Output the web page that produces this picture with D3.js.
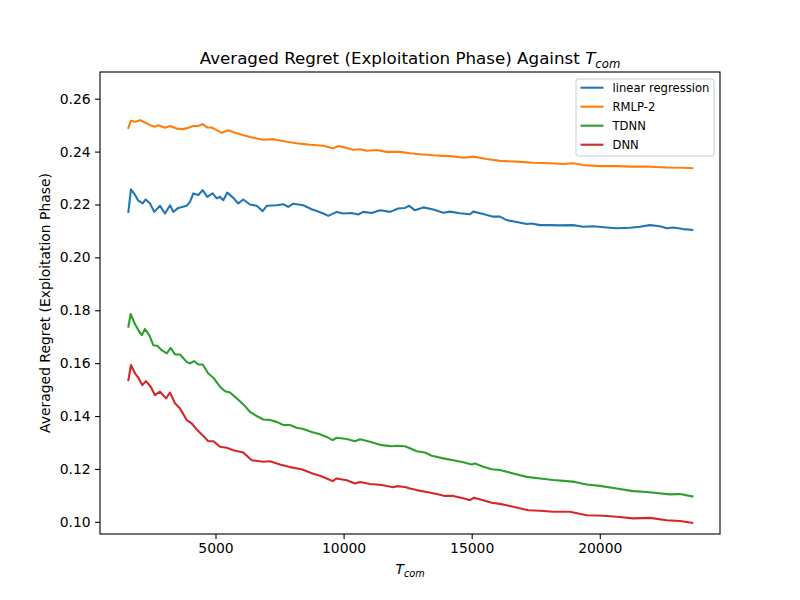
<!DOCTYPE html>
<html>
<head>
<meta charset="utf-8">
<script src="https://cdn.jsdelivr.net/npm/d3@7"></script>
<style>
    body { margin: 0; background: #fff; }
    svg { font-family: "DejaVu Sans", sans-serif; }
</style>
</head>
<body>
<svg id="regretChart" width="800" height="600"></svg>
<script>
// T_com positions and averaged regret values, one pair of arrays per model
var linRegT = [1600, 1700, 1860, 1975, 2160, 2275, 2445, 2610, 2835, 3030, 3225, 3355, 3550, 3875, 4005, 4135, 4330, 4500, 4680, 4890,
    5045, 5175, 5305, 5460, 5695, 5890, 6085, 6345, 6610, 6840, 7000, 7390, 7645, 7840, 8035, 8425, 8755, 8950, 9207, 9403,
    9730, 9988, 10316, 10573, 10769, 11096, 11420, 11811, 12135, 12396, 12564, 12786, 13110, 13500, 13891, 14153, 14543, 14933, 15062, 15452,
    15843, 16104, 16366, 16756, 17146, 17341, 17665, 18056, 18446, 18965, 19355, 19745, 20268, 20659, 21178, 21568, 21959, 22349, 22610, 22868,
    23258, 23610];
var linRegVal = [0.2172, 0.2257, 0.2236, 0.2216, 0.2204, 0.2219, 0.2204, 0.2172, 0.2195, 0.2166, 0.2197, 0.2172, 0.2187, 0.2195, 0.2210, 0.2242, 0.2236, 0.2254, 0.2229, 0.2242,
    0.2223, 0.2229, 0.2216, 0.2245, 0.2225, 0.2204, 0.2219, 0.2200, 0.2195, 0.2175, 0.2195, 0.2197, 0.2201, 0.2191, 0.2203, 0.2197, 0.2182, 0.2175, 0.2166, 0.2157,
    0.2172, 0.2166, 0.2168, 0.2162, 0.2172, 0.2168, 0.2178, 0.2172, 0.2185, 0.2187, 0.2195, 0.2178, 0.2189, 0.2181, 0.2169, 0.2173, 0.2167, 0.2163, 0.2173, 0.2164,
    0.2154, 0.2154, 0.2141, 0.2134, 0.2126, 0.2128, 0.2122, 0.2122, 0.2121, 0.2122, 0.2116, 0.2118, 0.2113, 0.2110, 0.2112, 0.2116, 0.2122, 0.2118, 0.2110, 0.2113,
    0.2107, 0.2104];

var rmlpT = [1600, 1700, 1860, 2053, 2248, 2444, 2639, 2768, 3029, 3224, 3486, 3743, 3938, 4133, 4329, 4500, 4680, 4852, 5047, 5242,
    5500, 5761, 6085, 6475, 6866, 7256, 7779, 8298, 8688, 9207, 9598, 9793, 10121, 10378, 10640, 10901, 11292, 11682, 12201, 12591,
    12982, 13500, 13891, 14281, 14672, 15062, 15585, 16104, 16756, 17404, 18056, 18575, 18965, 19355, 20007, 20659, 21307, 21959, 22610, 23258,
    23610];
var rmlpVal = [0.2490, 0.2517, 0.2513, 0.2519, 0.2510, 0.2500, 0.2494, 0.2500, 0.2490, 0.2497, 0.2487, 0.2485, 0.2490, 0.2497, 0.2497, 0.2504, 0.2491, 0.2491, 0.2481, 0.2471,
    0.2481, 0.2471, 0.2462, 0.2452, 0.2445, 0.2447, 0.2437, 0.2430, 0.2426, 0.2422, 0.2412, 0.2421, 0.2414, 0.2407, 0.2409, 0.2403, 0.2406, 0.2399, 0.2399, 0.2394,
    0.2390, 0.2386, 0.2384, 0.2382, 0.2377, 0.2381, 0.2372, 0.2365, 0.2362, 0.2358, 0.2356, 0.2353, 0.2356, 0.2349, 0.2345, 0.2345, 0.2343, 0.2343, 0.2340, 0.2339,
    0.2337];

var tdnnT = [1600, 1690, 1860, 1987, 2120, 2248, 2416, 2572, 2728, 2900, 3095, 3251, 3419, 3614, 3876, 4005, 4161, 4329, 4500, 4719,
    4914, 5176, 5371, 5566, 5827, 6085, 6347, 6608, 6866, 7127, 7388, 7646, 7908, 8169, 8427, 8755, 9079, 9340, 9574, 9730,
    10121, 10445, 10640, 11030, 11487, 11877, 12072, 12396, 12591, 12853, 13177, 13438, 13891, 14281, 14672, 14999, 15128, 15452, 15780, 16104,
    16623, 17146, 17665, 18184, 18707, 19031, 19488, 20007, 20659, 21307, 21830, 22220, 22739, 23130, 23610];
var tdnnVal = [0.1738, 0.1786, 0.1747, 0.1725, 0.1706, 0.1729, 0.1706, 0.1668, 0.1666, 0.1649, 0.1637, 0.1658, 0.1633, 0.1633, 0.1605, 0.1599, 0.1608, 0.1595, 0.1595, 0.1561,
    0.1545, 0.1511, 0.1494, 0.1489, 0.1467, 0.1444, 0.1416, 0.1400, 0.1387, 0.1385, 0.1378, 0.1366, 0.1366, 0.1356, 0.1351, 0.1340, 0.1331, 0.1321, 0.1309, 0.1318,
    0.1313, 0.1305, 0.1312, 0.1303, 0.1290, 0.1286, 0.1288, 0.1286, 0.1278, 0.1267, 0.1262, 0.1250, 0.1240, 0.1233, 0.1225, 0.1217, 0.1221, 0.1208, 0.1199, 0.1196,
    0.1183, 0.1170, 0.1164, 0.1158, 0.1154, 0.1151, 0.1141, 0.1136, 0.1126, 0.1116, 0.1113, 0.1109, 0.1104, 0.1105, 0.1096];

var dnnT = [1600, 1700, 1860, 1987, 2143, 2287, 2471, 2639, 2834, 3068, 3224, 3419, 3614, 3876, 4071, 4290, 4524, 4719, 4914, 5176,
    5437, 5695, 6085, 6413, 6866, 7127, 7517, 7908, 8364, 8817, 9079, 9340, 9574, 9730, 10121, 10445, 10640, 11030, 11487, 11939,
    12072, 12396, 12591, 12853, 13243, 13633, 13957, 14281, 14672, 14933, 15089, 15452, 15780, 16104, 16623, 17208, 17665, 18184, 18835, 19488,
    20136, 20659, 21307, 21959, 22610, 23130, 23610];
var dnnVal = [0.1536, 0.1593, 0.1561, 0.1545, 0.1517, 0.1532, 0.1511, 0.1479, 0.1492, 0.1467, 0.1489, 0.1448, 0.1429, 0.1385, 0.1372, 0.1347, 0.1325, 0.1305, 0.1305, 0.1284,
    0.1280, 0.1271, 0.1262, 0.1233, 0.1227, 0.1229, 0.1217, 0.1207, 0.1199, 0.1182, 0.1174, 0.1164, 0.1154, 0.1164, 0.1157, 0.1145, 0.1151, 0.1143, 0.1139, 0.1131,
    0.1135, 0.1132, 0.1126, 0.1120, 0.1113, 0.1105, 0.1098, 0.1098, 0.1089, 0.1082, 0.1091, 0.1082, 0.1072, 0.1068, 0.1057, 0.1044, 0.1042, 0.1038, 0.1038, 0.1025,
    0.1023, 0.1019, 0.1013, 0.1015, 0.1006, 0.1003, 0.0996];

var seriesNames = ["linear regression", "RMLP-2", "TDNN", "DNN"];
var xTickValues = [5000, 10000, 15000, 20000];
var yTickValues = [0.10, 0.12, 0.14, 0.16, 0.18, 0.20, 0.22, 0.24, 0.26];

(function () {
    var svg = d3.select("#regretChart"),
        margin = { top: 72, right: 80, bottom: 66, left: 100 },
        width = +svg.attr("width") - margin.left - margin.right,
        height = +svg.attr("height") - margin.top - margin.bottom,
        g = svg.append("g").attr("transform", "translate(" + margin.left + "," + margin.top + ")");

    var colors = ["#1f77b4", "#ff7f0e", "#2ca02c", "#d62728"];

    var data = [
        { name: seriesNames[0], t: linRegT, v: linRegVal },
        { name: seriesNames[1], t: rmlpT, v: rmlpVal },
        { name: seriesNames[2], t: tdnnT, v: tdnnVal },
        { name: seriesNames[3], t: dnnT, v: dnnVal }
    ];

    var x = d3.scaleLinear().domain([492, 24692]).range([0, width]);
    var y = d3.scaleLinear().domain([0.0954, 0.2701]).range([height, 0]);

    var line = d3.line()
        .x(function (d) { return x(d[0]); })
        .y(function (d) { return y(d[1]); });

    g.selectAll(".series")
        .data(data)
        .enter().append("path")
        .attr("class", "series")
        .attr("fill", "none")
        .attr("stroke", function (d, i) { return colors[i]; })
        .attr("stroke-width", 2.1)
        .attr("stroke-linejoin", "round")
        .attr("stroke-linecap", "square")
        .attr("d", function (d) {
            return line(d.t.map(function (t, i) { return [t, d.v[i]]; }));
        });

    // axes, matplotlib look
    var xAxis = g.append("g")
        .attr("transform", "translate(0," + height + ")")
        .call(d3.axisBottom(x).tickValues(xTickValues).tickSize(4.9).tickPadding(4.5).tickFormat(d3.format("d")));
    var yAxis = g.append("g")
        .call(d3.axisLeft(y).tickValues(yTickValues).tickSize(4.9).tickPadding(4.5).tickFormat(d3.format(".2f")));

    [xAxis, yAxis].forEach(function (a) {
        a.select(".domain").remove();
        a.selectAll(".tick line").attr("stroke", "#000").attr("stroke-width", 1.1);
        a.selectAll(".tick text")
            .attr("fill", "#000")
            .style("font-family", "'DejaVu Sans', sans-serif")
            .style("font-size", "13.9px");
    });

    g.append("rect")
        .attr("width", width)
        .attr("height", height)
        .attr("fill", "none")
        .attr("stroke", "#000")
        .attr("stroke-width", 1.1);

    // title
    var title = svg.append("text")
        .attr("x", margin.left + width / 2)
        .attr("y", 63.5)
        .attr("text-anchor", "middle")
        .style("font-size", "16.7px")
        .attr("fill", "#000");
    title.append("tspan").text("Averaged Regret (Exploitation Phase) Against ");
    title.append("tspan").style("font-style", "italic").text("T");
    title.append("tspan").style("font-style", "italic").style("font-size", "11.7px").attr("dy", 4).text("com");

    // x label
    var xLabel = svg.append("text")
        .attr("x", margin.left + width / 2)
        .attr("y", 574)
        .attr("text-anchor", "middle")
        .style("font-size", "13.9px")
        .attr("fill", "#000");
    xLabel.append("tspan").style("font-style", "italic").text("T");
    xLabel.append("tspan").style("font-style", "italic").style("font-size", "9.7px").attr("dy", 3).text("com");

    // y label
    svg.append("text")
        .attr("transform", "translate(50," + (margin.top + height / 2) + ") rotate(-90)")
        .attr("text-anchor", "middle")
        .style("font-size", "13.9px")
        .attr("fill", "#000")
        .text("Averaged Regret (Exploitation Phase)");

    // legend
    var legend = svg.append("g").attr("transform", "translate(576,79)");
    legend.append("rect")
        .attr("width", 138)
        .attr("height", 77)
        .attr("rx", 2.5)
        .attr("fill", "#fff")
        .attr("fill-opacity", 0.8)
        .attr("stroke", "#cccccc")
        .attr("stroke-width", 1);

    var item = legend.selectAll(".item")
        .data(data)
        .enter().append("g")
        .attr("class", "item")
        .attr("transform", function (d, i) { return "translate(0," + (8.7 + i * 19) + ")"; });

    item.append("line")
        .attr("x1", 4.5)
        .attr("x2", 27.5)
        .attr("stroke", function (d, i) { return colors[i]; })
        .attr("stroke-width", 2.1);

    item.append("text")
        .attr("x", 36.5)
        .attr("dy", "0.36em")
        .style("font-size", "11.6px")
        .attr("fill", "#000")
        .text(function (d) { return d.name; });
})();
</script>
</body>
</html>
